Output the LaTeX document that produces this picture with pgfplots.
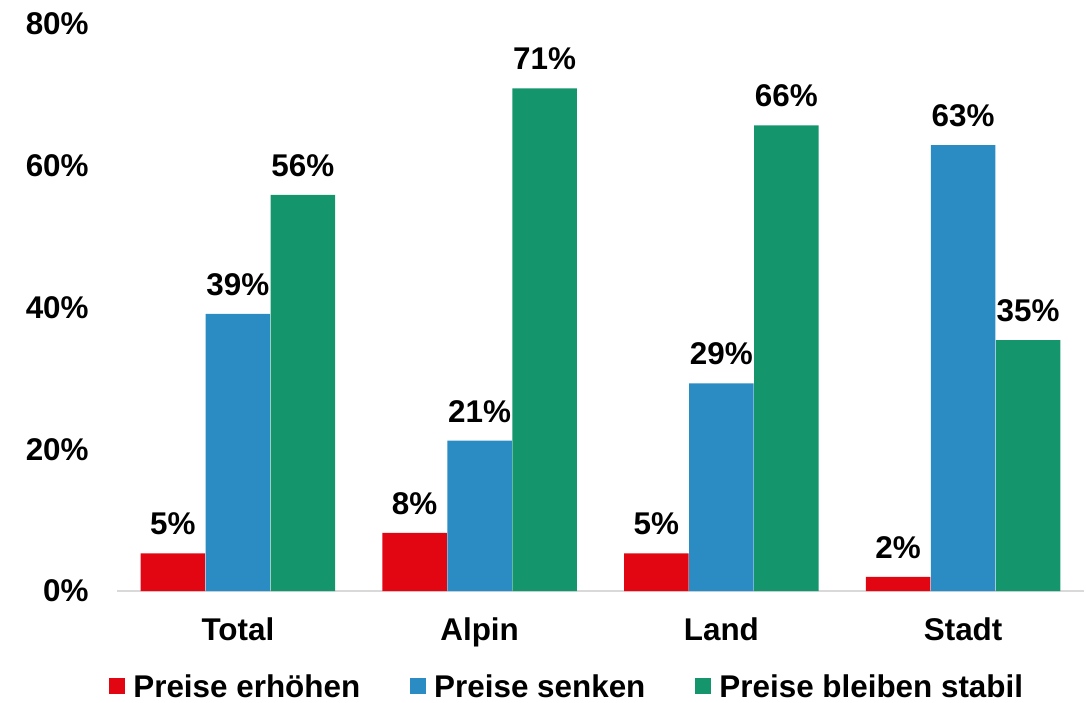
\documentclass[border=0pt]{standalone}
\usepackage{fontspec}
\setmainfont{Liberation Sans}
\usepackage{pgfplots}
\pgfplotsset{compat=1.18}
\definecolor{cred}{HTML}{E20613}
\definecolor{cblue}{HTML}{2A8CC2}
\definecolor{cgreen}{HTML}{14956B}
\pgfplotsset{/pgf/number format/assume math mode=true}
\newcommand{\lf}{\fontsize{15.7}{18}\selectfont\bfseries}
\begin{document}
\begin{tikzpicture}
\useasboundingbox (0,0) rectangle (543pt,351pt);
\begin{axis}[
  at={(58.5pt,55.5pt)}, anchor=south west,
  scale only axis, width=483.5pt, height=283.5pt,
  ybar=0.25pt, bar width=32.25pt,
  xmin=-0.5, xmax=3.5, ymin=0, ymax=80,
  xtick={0,1,2,3}, xticklabels={Total,Alpin,Land,Stadt},
  ytick={0,20,40,60,80}, yticklabels={0\%,20\%,40\%,60\%,80\%},
  axis lines*=left,
  y axis line style={draw=none},
  x axis line style={draw=black!15, line width=0.75pt},
  major tick length=0pt,
  tick label style={font=\lf, inner sep=0pt},
  xticklabel style={yshift=-13.3pt},
  yticklabel style={xshift=-14pt},
  nodes near coords={\pgfmathprintnumber[fixed,precision=0]{\pgfplotspointmeta}\%},
  every node near coord/.append style={font=\lf, inner sep=0pt, yshift=9pt, text=black},
  legend columns=3,
  legend style={at={(-0.0083,-0.167)}, anchor=west, draw=none, inner sep=0pt,
    font=\lf, nodes={inner sep=0pt, text depth=0pt},
    /tikz/every odd column/.append style={column sep=4pt},
    /tikz/every even column/.append style={column sep=25pt}},
  legend image code/.code={\fill[#1] (0pt,-4pt) rectangle (8pt,4pt);},
]
\addplot[fill=cred, draw=none] coordinates {(0,5.3) (1,8.2) (2,5.3) (3,2.0)};
\addplot[fill=cblue, draw=none] coordinates {(0,39.1) (1,21.2) (2,29.3) (3,62.9)};
\addplot[fill=cgreen, draw=none] coordinates {(0,55.9) (1,70.9) (2,65.7) (3,35.4)};
\legend{Preise erhöhen, Preise senken, Preise bleiben stabil}
\end{axis}
\end{tikzpicture}
\end{document}
